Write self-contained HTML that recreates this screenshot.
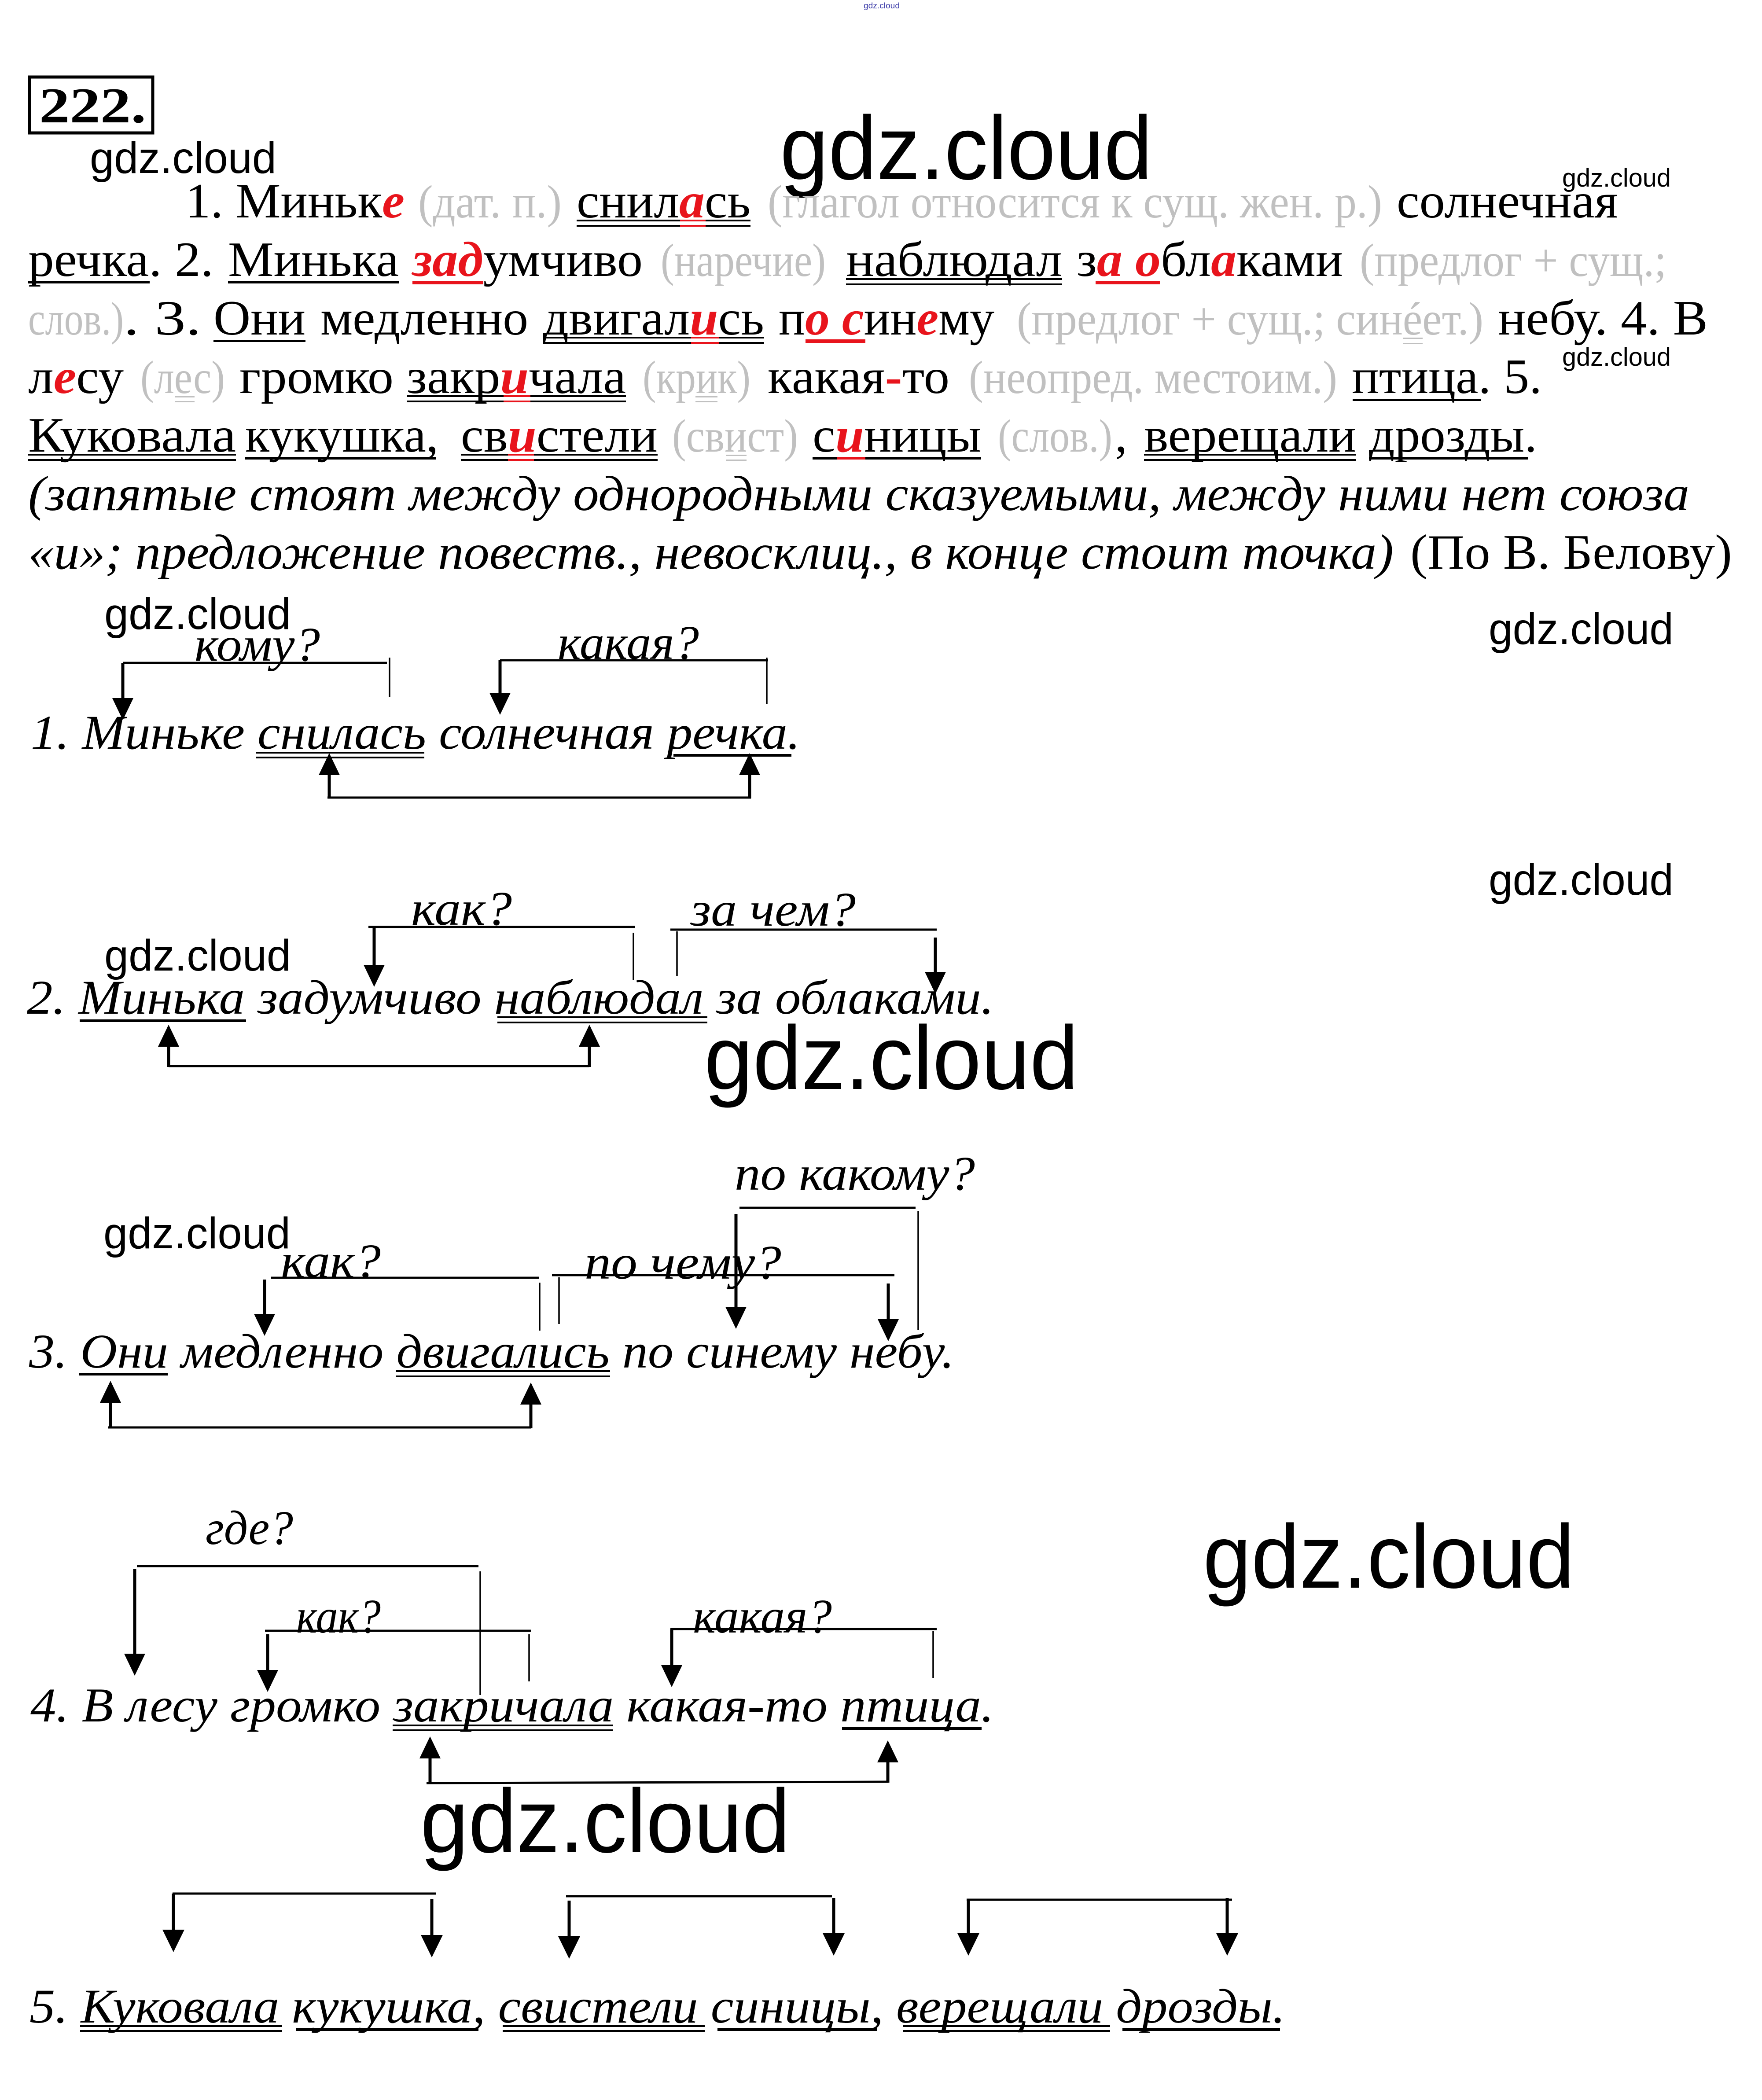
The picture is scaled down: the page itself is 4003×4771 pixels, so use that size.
<!DOCTYPE html>
<html>
<head>
<meta charset="utf-8">
<style>
html,body{margin:0;padding:0;background:#fff;}
svg{display:block;}
</style>
</head>
<body>
<svg xmlns="http://www.w3.org/2000/svg" width="4003" height="4771" viewBox="0 0 4003 4771">
<rect x="0" y="0" width="4003" height="4771" fill="#fff"/>

<!-- tiny top watermark -->
<text x="1962" y="19" font-family="'Liberation Sans', sans-serif" font-size="18" fill="#3a3aa8" textLength="82" lengthAdjust="spacingAndGlyphs">gdz.cloud</text>

<!-- 222. box -->
<rect x="67" y="175" width="280" height="127" fill="none" stroke="#000" stroke-width="7"/>
<text x="89" y="278" font-family="'Liberation Serif', serif" font-size="114" font-weight="bold" textLength="243" lengthAdjust="spacingAndGlyphs">222.</text>

<!-- watermarks -->
<g font-family="'Liberation Sans', sans-serif" fill="#000">
<text x="204" y="393" font-size="100" textLength="424" lengthAdjust="spacingAndGlyphs">gdz.cloud</text>
<text x="1772" y="407" font-size="205" textLength="846" lengthAdjust="spacingAndGlyphs">gdz.cloud</text>
<text x="3549" y="424" font-size="58" textLength="247" lengthAdjust="spacingAndGlyphs">gdz.cloud</text>
<text x="3549" y="831" font-size="58" textLength="247" lengthAdjust="spacingAndGlyphs">gdz.cloud</text>
<text x="3382" y="1463" font-size="100" textLength="420" lengthAdjust="spacingAndGlyphs">gdz.cloud</text>
<text x="3382" y="2033" font-size="100" textLength="420" lengthAdjust="spacingAndGlyphs">gdz.cloud</text>
<text x="237" y="1429" font-size="100" textLength="424" lengthAdjust="spacingAndGlyphs">gdz.cloud</text>
<text x="237" y="2205" font-size="100" textLength="424" lengthAdjust="spacingAndGlyphs">gdz.cloud</text>
<text x="1600" y="2474" font-size="205" textLength="850" lengthAdjust="spacingAndGlyphs">gdz.cloud</text>
<text x="235" y="2836" font-size="100" textLength="425" lengthAdjust="spacingAndGlyphs">gdz.cloud</text>
<text x="2733" y="3607" font-size="205" textLength="844" lengthAdjust="spacingAndGlyphs">gdz.cloud</text>
<text x="955" y="4208" font-size="205" textLength="840" lengthAdjust="spacingAndGlyphs">gdz.cloud</text>
</g>

<!-- ================= PARAGRAPH ================= -->
<g font-family="'Liberation Serif', serif" font-size="112" fill="#000">
<!-- Line 1 -->
<text x="421" y="494" textLength="498" lengthAdjust="spacingAndGlyphs">1. Миньк<tspan fill="#e8141c" font-weight="bold" font-style="italic">е</tspan></text>
<text x="950" y="494" font-size="106" fill="#c0c0c0" textLength="326" lengthAdjust="spacingAndGlyphs">(дат. п.)</text>
<text x="1310" y="494" textLength="395" lengthAdjust="spacingAndGlyphs">снил<tspan fill="#e8141c" font-weight="bold" font-style="italic">а</tspan>сь</text>
<text x="1744" y="494" font-size="106" fill="#c0c0c0" textLength="1396" lengthAdjust="spacingAndGlyphs">(глагол относится к сущ. жен. р.)</text>
<text x="3173" y="494" textLength="503" lengthAdjust="spacingAndGlyphs">солнечная</text>

<!-- Line 2 -->
<text x="64" y="627" textLength="421" lengthAdjust="spacingAndGlyphs">речка. 2.</text>
<text x="518" y="627" textLength="388" lengthAdjust="spacingAndGlyphs">Минька</text>
<text x="937" y="627" textLength="523" lengthAdjust="spacingAndGlyphs"><tspan fill="#e8141c" font-weight="bold" font-style="italic">зад</tspan>умчиво</text>
<text x="1501" y="627" font-size="106" fill="#c0c0c0" textLength="375" lengthAdjust="spacingAndGlyphs">(наречие)</text>
<text x="1922" y="627" textLength="491" lengthAdjust="spacingAndGlyphs">наблюдал</text>
<text x="2446" y="627" textLength="605" lengthAdjust="spacingAndGlyphs">з<tspan fill="#e8141c" font-weight="bold" font-style="italic">а</tspan> <tspan fill="#e8141c" font-weight="bold" font-style="italic">о</tspan>бл<tspan fill="#e8141c" font-weight="bold" font-style="italic">а</tspan>ками</text>
<text x="3089" y="627" font-size="106" fill="#c0c0c0" textLength="697" lengthAdjust="spacingAndGlyphs">(предлог + сущ.;</text>

<!-- Line 3 -->
<text x="64" y="760" font-size="106" fill="#c0c0c0" textLength="217" lengthAdjust="spacingAndGlyphs">слов.)</text>
<text x="281" y="760" textLength="176" lengthAdjust="spacingAndGlyphs">. 3.</text>
<text x="485" y="760" textLength="209" lengthAdjust="spacingAndGlyphs">Они</text>
<text x="728" y="760" textLength="472" lengthAdjust="spacingAndGlyphs">медленно</text>
<text x="1233" y="760" textLength="503" lengthAdjust="spacingAndGlyphs">двигал<tspan fill="#e8141c" font-weight="bold" font-style="italic">и</tspan>сь</text>
<text x="1769" y="760" textLength="490" lengthAdjust="spacingAndGlyphs">п<tspan fill="#e8141c" font-weight="bold" font-style="italic">о</tspan> <tspan fill="#e8141c" font-weight="bold" font-style="italic">с</tspan>ин<tspan fill="#e8141c" font-weight="bold" font-style="italic">е</tspan>му</text>
<text x="2310" y="760" font-size="106" fill="#c0c0c0" textLength="1060" lengthAdjust="spacingAndGlyphs">(предлог + сущ.; синéет.)</text>
<text x="3403" y="760" textLength="477" lengthAdjust="spacingAndGlyphs">небу. 4. В</text>

<!-- Line 4 -->
<text x="64" y="893" textLength="217" lengthAdjust="spacingAndGlyphs">л<tspan fill="#e8141c" font-weight="bold" font-style="italic">е</tspan>су</text>
<text x="319" y="893" font-size="106" fill="#c0c0c0" textLength="192" lengthAdjust="spacingAndGlyphs">(лес)</text>
<text x="544" y="893" textLength="350" lengthAdjust="spacingAndGlyphs">громко</text>
<text x="924" y="893" textLength="498" lengthAdjust="spacingAndGlyphs">закр<tspan fill="#e8141c" font-weight="bold" font-style="italic">и</tspan>чала</text>
<text x="1460" y="893" font-size="106" fill="#c0c0c0" textLength="245" lengthAdjust="spacingAndGlyphs">(крик)</text>
<text x="1744" y="893" textLength="413" lengthAdjust="spacingAndGlyphs">какая<tspan fill="#e8141c" font-weight="bold">-</tspan>то</text>
<text x="2201" y="893" font-size="106" fill="#c0c0c0" textLength="837" lengthAdjust="spacingAndGlyphs">(неопред. местоим.)</text>
<text x="3071" y="893" textLength="432" lengthAdjust="spacingAndGlyphs">птица. 5.</text>

<!-- Line 5 -->
<text x="64" y="1026" textLength="472" lengthAdjust="spacingAndGlyphs">Куковала</text>
<text x="557" y="1026" textLength="439" lengthAdjust="spacingAndGlyphs">кукушка,</text>
<text x="1047" y="1026" textLength="447" lengthAdjust="spacingAndGlyphs">св<tspan fill="#e8141c" font-weight="bold" font-style="italic">и</tspan>стели</text>
<text x="1527" y="1026" font-size="106" fill="#c0c0c0" textLength="286" lengthAdjust="spacingAndGlyphs">(свист)</text>
<text x="1846" y="1026" textLength="383" lengthAdjust="spacingAndGlyphs">с<tspan fill="#e8141c" font-weight="bold" font-style="italic">и</tspan>ницы</text>
<text x="2267" y="1026" font-size="106" fill="#c0c0c0" textLength="260" lengthAdjust="spacingAndGlyphs">(слов.)</text>
<text x="2533" y="1026">,</text>
<text x="2599" y="1026" textLength="482" lengthAdjust="spacingAndGlyphs">верещали</text>
<text x="3110" y="1026" textLength="382" lengthAdjust="spacingAndGlyphs">дрозды.</text>

<!-- Line 6, 7 -->
<text x="64" y="1159" font-style="italic" textLength="3774" lengthAdjust="spacingAndGlyphs">(запятые стоят между однородными сказуемыми, между ними нет союза</text>
<text x="64" y="1292" font-style="italic" textLength="3102" lengthAdjust="spacingAndGlyphs">«и»; предложение повеств., невосклиц., в конце стоит точка)</text>
<text x="3204" y="1292" textLength="731" lengthAdjust="spacingAndGlyphs">(По В. Белову)</text>
</g>

<!-- Paragraph underlines -->
<g fill="#000">
<!-- L1 снилась double -->
<rect x="1310" y="499" width="395" height="4"/><rect x="1310" y="511" width="395" height="4"/>
<!-- L2 речка, Минька single; наблюдал double -->
<rect x="64" y="639" width="276" height="5"/>
<rect x="518" y="639" width="388" height="5"/>
<rect x="1922" y="632" width="491" height="4"/><rect x="1922" y="644" width="491" height="4"/>
<!-- L3 Они single, двигались double -->
<rect x="485" y="772" width="209" height="5"/>
<rect x="1233" y="765" width="503" height="4"/><rect x="1233" y="777" width="503" height="4"/>
<!-- L4 закричала double, птица single -->
<rect x="924" y="898" width="498" height="4"/><rect x="924" y="910" width="498" height="4"/>
<rect x="3073" y="906" width="292" height="5"/>
<!-- L5 -->
<rect x="64" y="1031" width="472" height="4"/><rect x="64" y="1043" width="472" height="4"/>
<rect x="557" y="1038" width="433" height="6"/>
<rect x="1047" y="1031" width="447" height="4"/><rect x="1047" y="1043" width="447" height="4"/>
<rect x="1846" y="1038" width="383" height="6"/>
<rect x="2599" y="1031" width="482" height="4"/><rect x="2599" y="1043" width="482" height="4"/>
<rect x="3110" y="1038" width="362" height="6"/>
</g>
<g fill="#e8141c">
<rect x="1545" y="499" width="58" height="4"/><rect x="1545" y="511" width="58" height="4"/>
<rect x="937" y="638" width="161" height="8"/>
<rect x="2489" y="638" width="146" height="8"/>
<rect x="1570" y="765" width="64" height="4"/><rect x="1570" y="777" width="64" height="4"/>
<rect x="1830" y="771" width="136" height="8"/>
<rect x="1144" y="898" width="61" height="4"/><rect x="1144" y="910" width="61" height="4"/>
<rect x="1154" y="1031" width="59" height="4"/><rect x="1154" y="1043" width="59" height="4"/>
<rect x="1902" y="1038" width="64" height="6"/>
</g>
<g fill="#c0c0c0">
<rect x="3187" y="767" width="45" height="3"/><rect x="3187" y="779" width="45" height="3"/>
<rect x="397" y="900" width="45" height="3"/><rect x="397" y="911" width="45" height="3"/>
<rect x="1580" y="900" width="50" height="3"/><rect x="1580" y="911" width="50" height="3"/>
<rect x="1650" y="1033" width="46" height="3"/><rect x="1650" y="1044" width="46" height="3"/>
</g>

<!-- ================= SENTENCES ================= -->
<g font-family="'Liberation Serif', serif" font-size="110" font-style="italic" fill="#000">
<text x="70" y="1701" textLength="1748" lengthAdjust="spacingAndGlyphs">1. Миньке снилась солнечная речка.</text>
<text x="61" y="2303" textLength="2197" lengthAdjust="spacingAndGlyphs">2. Минька задумчиво наблюдал за облаками.</text>
<text x="66" y="3107" textLength="2102" lengthAdjust="spacingAndGlyphs">3. Они медленно двигались по синему небу.</text>
<text x="69" y="3911" textLength="2189" lengthAdjust="spacingAndGlyphs">4. В лесу громко закричала какая-то птица.</text>
<text x="67" y="4595" textLength="2853" lengthAdjust="spacingAndGlyphs">5. Куковала кукушка, свистели синицы, верещали дрозды.</text>

<!-- question labels -->
<text x="442" y="1501" textLength="285" lengthAdjust="spacingAndGlyphs">кому?</text>
<text x="1267" y="1497" textLength="321" lengthAdjust="spacingAndGlyphs">какая?</text>
<text x="934" y="2101" textLength="229" lengthAdjust="spacingAndGlyphs">как?</text>
<text x="1569" y="2103" textLength="375" lengthAdjust="spacingAndGlyphs">за чем?</text>
<text x="1669" y="2703" textLength="546" lengthAdjust="spacingAndGlyphs">по какому?</text>
<text x="638" y="2902" textLength="227" lengthAdjust="spacingAndGlyphs">как?</text>
<text x="1328" y="2905" textLength="447" lengthAdjust="spacingAndGlyphs">по чему?</text>
<text x="467" y="3508" textLength="199" lengthAdjust="spacingAndGlyphs">где?</text>
<text x="673" y="3709" textLength="192" lengthAdjust="spacingAndGlyphs">как?</text>
<text x="1574" y="3709" textLength="316" lengthAdjust="spacingAndGlyphs">какая?</text>
</g>

<!-- horizontal bracket lines -->
<g stroke="#000" stroke-width="5" fill="none">
<line x1="279" y1="1506" x2="879" y2="1506"/>
<line x1="1136" y1="1500" x2="1745" y2="1500"/>
<line x1="744" y1="1812" x2="1706" y2="1812"/>

<line x1="837" y1="2106" x2="1443" y2="2106"/>
<line x1="1523" y1="2112" x2="2128" y2="2112"/>
<line x1="383" y1="2422" x2="1339" y2="2422"/>

<line x1="1680" y1="2744" x2="2080" y2="2744"/>
<line x1="616" y1="2903" x2="1225" y2="2903"/>
<line x1="1254" y1="2897" x2="2032" y2="2897"/>
<line x1="246" y1="3243" x2="1206" y2="3243"/>

<line x1="311" y1="3558" x2="1087" y2="3558"/>
<line x1="602" y1="3705" x2="1206" y2="3705"/>
<line x1="1523" y1="3701" x2="2128" y2="3701"/>
<line x1="969" y1="4051" x2="2017" y2="4048"/>

<line x1="392" y1="4302" x2="991" y2="4302"/>
<line x1="1286" y1="4308" x2="1890" y2="4308"/>
<line x1="2196" y1="4316" x2="2799" y2="4316"/>
</g>

<!-- thin verticals -->
<g stroke="#000" stroke-width="3.5" fill="none">
<line x1="885" y1="1494" x2="885" y2="1583"/>
<line x1="1742" y1="1494" x2="1742" y2="1599"/>
<line x1="1439" y1="2119" x2="1439" y2="2226"/>
<line x1="1538" y1="2116" x2="1538" y2="2218"/>
<line x1="2086" y1="2751" x2="2086" y2="3022"/>
<line x1="1226" y1="2914" x2="1226" y2="3023"/>
<line x1="1270" y1="2902" x2="1270" y2="3008"/>
<line x1="1091" y1="3570" x2="1091" y2="3851"/>
<line x1="1202" y1="3713" x2="1202" y2="3820"/>
<line x1="2120" y1="3706" x2="2120" y2="3812"/>
</g>

<!-- arrow shafts -->
<g stroke="#000" stroke-width="7" fill="none">
<!-- down -->
<line x1="279" y1="1506" x2="279" y2="1596"/>
<line x1="1136" y1="1500" x2="1136" y2="1584"/>
<line x1="850" y1="2106" x2="850" y2="2202"/>
<line x1="2125" y1="2130" x2="2125" y2="2218"/>
<line x1="1672" y1="2758" x2="1672" y2="2979"/>
<line x1="601" y1="2907" x2="601" y2="2995"/>
<line x1="2018" y1="2916" x2="2018" y2="3007"/>
<line x1="306" y1="3564" x2="306" y2="3767"/>
<line x1="608" y1="3713" x2="608" y2="3804"/>
<line x1="1526" y1="3702" x2="1526" y2="3793"/>
<line x1="394" y1="4302" x2="394" y2="4395"/>
<line x1="981" y1="4315" x2="981" y2="4407"/>
<line x1="1293" y1="4318" x2="1293" y2="4410"/>
<line x1="1894" y1="4312" x2="1894" y2="4403"/>
<line x1="2200" y1="4316" x2="2200" y2="4403"/>
<line x1="2788" y1="4312" x2="2788" y2="4403"/>
<!-- up -->
<line x1="748" y1="1814" x2="748" y2="1751"/>
<line x1="1703" y1="1814" x2="1703" y2="1751"/>
<line x1="383" y1="2424" x2="383" y2="2368"/>
<line x1="1339" y1="2424" x2="1339" y2="2368"/>
<line x1="251" y1="3245" x2="251" y2="3177"/>
<line x1="1206" y1="3245" x2="1206" y2="3181"/>
<line x1="977" y1="4052" x2="977" y2="3985"/>
<line x1="2017" y1="4050" x2="2017" y2="3994"/>
</g>

<!-- arrow heads -->
<g fill="#000">
<!-- down heads: base at tip-50 -->
<polygon points="255,1586 303,1586 279,1636"/>
<polygon points="1112,1574 1160,1574 1136,1624"/>
<polygon points="826,2192 874,2192 850,2242"/>
<polygon points="2101,2208 2149,2208 2125,2258"/>
<polygon points="1648,2969 1696,2969 1672,3019"/>
<polygon points="577,2985 625,2985 601,3035"/>
<polygon points="1994,2997 2042,2997 2018,3047"/>
<polygon points="282,3757 330,3757 306,3807"/>
<polygon points="584,3794 632,3794 608,3844"/>
<polygon points="1502,3783 1550,3783 1526,3833"/>
<polygon points="369,4384 419,4384 394,4435"/>
<polygon points="956,4396 1006,4396 981,4447"/>
<polygon points="1268,4399 1318,4399 1293,4450"/>
<polygon points="1869,4392 1919,4392 1894,4443"/>
<polygon points="2175,4392 2225,4392 2200,4443"/>
<polygon points="2763,4392 2813,4392 2788,4443"/>
<!-- up heads -->
<polygon points="724,1761 772,1761 748,1711"/>
<polygon points="1679,1761 1727,1761 1703,1711"/>
<polygon points="359,2378 407,2378 383,2328"/>
<polygon points="1315,2378 1363,2378 1339,2328"/>
<polygon points="227,3187 275,3187 251,3137"/>
<polygon points="1182,3191 1230,3191 1206,3141"/>
<polygon points="953,3995 1001,3995 977,3945"/>
<polygon points="1993,4004 2041,4004 2017,3954"/>
</g>

<!-- sentence underlines -->
<g fill="#000">
<!-- S1 -->
<rect x="582" y="1708" width="382" height="4"/><rect x="582" y="1719" width="382" height="4"/>
<rect x="1530" y="1713" width="268" height="6"/>
<!-- S2 -->
<rect x="181" y="2316" width="378" height="6"/>
<rect x="1130" y="2309" width="477" height="4"/><rect x="1130" y="2321" width="477" height="4"/>
<!-- S3 -->
<rect x="180" y="3119" width="201" height="6"/>
<rect x="899" y="3113" width="487" height="4"/><rect x="899" y="3125" width="487" height="4"/>
<!-- S4 -->
<rect x="892" y="3918" width="501" height="4"/><rect x="892" y="3929" width="501" height="4"/>
<rect x="1913" y="3924" width="317" height="6"/>
<!-- S5 -->
<rect x="182" y="4601" width="459" height="4"/><rect x="182" y="4612" width="459" height="4"/>
<rect x="673" y="4608" width="414" height="6"/>
<rect x="1142" y="4601" width="459" height="4"/><rect x="1142" y="4612" width="459" height="4"/>
<rect x="1630" y="4608" width="363" height="6"/>
<rect x="2051" y="4601" width="471" height="4"/><rect x="2051" y="4612" width="471" height="4"/>
<rect x="2550" y="4608" width="358" height="6"/>
</g>
</svg>
</body>
</html>
